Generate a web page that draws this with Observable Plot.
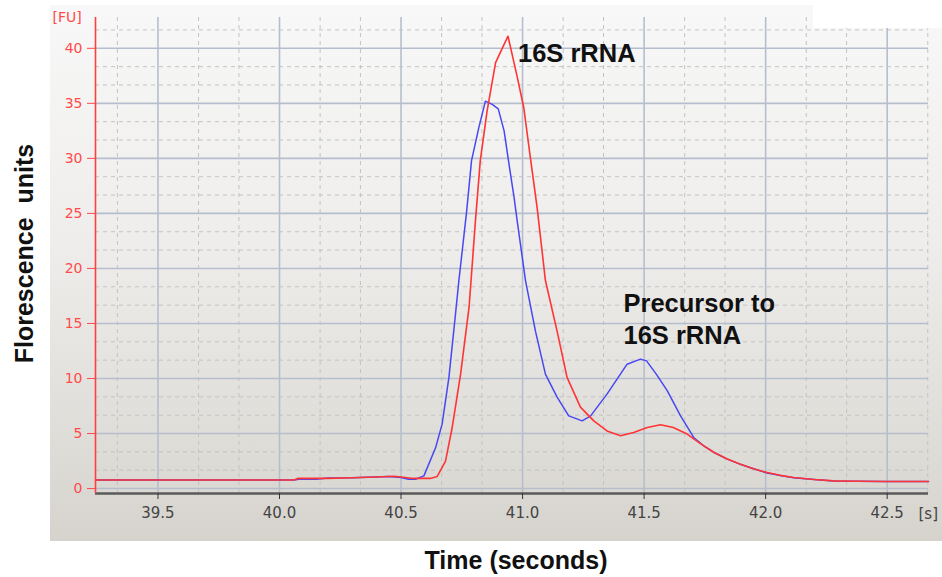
<!DOCTYPE html>
<html>
<head>
<meta charset="utf-8">
<script src="https://cdn.jsdelivr.net/npm/d3@7"></script>
<script src="https://cdn.jsdelivr.net/npm/@observablehq/plot@0.6"></script>
<style>
  html, body { margin: 0; padding: 0; background: #ffffff; }
  #wrap { position: relative; width: 942px; height: 577px; overflow: hidden; }
  #panel { position: absolute; left: 50px; top: 5px; width: 892px; height: 536px;
    background: linear-gradient(to bottom, #f8f8f8 0%, #eeedeb 45%, #dddbd6 85%, #d6d3cd 100%); }
  #notch { position: absolute; left: 813px; top: 0; width: 129px; height: 28px; background: #ffffff; }
  #chart { position: absolute; left: 0; top: 0; }
</style>
</head>
<body>
<div id="wrap"><div id="panel"></div><div id="chart"></div><div id="notch"></div></div>
<script>
// ---- data ----
const redTime  = [39.243, 40.06, 40.075, 40.2, 40.3, 40.4, 40.47, 40.5, 40.55, 40.62, 40.649, 40.683, 40.71, 40.745, 40.78, 40.806, 40.826, 40.854, 40.889, 40.94, 40.978, 41.005, 41.03, 41.06, 41.094, 41.142, 41.183, 41.238, 41.293, 41.35, 41.403, 41.457, 41.513, 41.568, 41.62, 41.677, 41.73, 41.786, 41.84, 41.896, 41.95, 42.006, 42.06, 42.115, 42.2, 42.28, 42.38, 42.486, 42.67];
const redValue = [0.78, 0.78, 0.92, 0.92, 0.98, 1.05, 1.12, 1.05, 0.92, 0.92, 1.1, 2.5, 5.5, 10.4, 16.5, 24.3, 29.8, 34.3, 38.7, 41.1, 37.4, 34.6, 30.4, 25.5, 18.9, 14.3, 10.1, 7.4, 6.15, 5.2, 4.8, 5.1, 5.55, 5.8, 5.55, 4.95, 4.1, 3.3, 2.7, 2.2, 1.8, 1.45, 1.2, 1.0, 0.82, 0.7, 0.66, 0.64, 0.64];

const blueTime  = [39.243, 40.06, 40.08, 40.15, 40.2, 40.3, 40.45, 40.5, 40.53, 40.56, 40.594, 40.642, 40.669, 40.697, 40.724, 40.738, 40.77, 40.79, 40.82, 40.847, 40.875, 40.9, 40.924, 40.944, 40.965, 40.978, 41.012, 41.053, 41.094, 41.142, 41.19, 41.245, 41.28, 41.348, 41.43, 41.485, 41.51, 41.55, 41.595, 41.65, 41.704, 41.75, 41.786, 41.84, 41.896, 41.95, 42.006, 42.06, 42.115, 42.2, 42.28, 42.38, 42.486, 42.58, 42.67];
const blueValue = [0.78, 0.78, 0.85, 0.85, 0.95, 0.98, 1.1, 1.0, 0.85, 0.85, 1.15, 3.7, 5.85, 10.1, 15.85, 18.9, 25.2, 29.8, 32.8, 35.2, 34.9, 34.5, 32.5, 29.5, 26.45, 24.3, 18.9, 14.3, 10.4, 8.3, 6.6, 6.15, 6.6, 8.6, 11.3, 11.76, 11.6, 10.4, 8.9, 6.6, 4.64, 3.8, 3.3, 2.7, 2.2, 1.8, 1.42, 1.18, 0.98, 0.82, 0.68, 0.66, 0.64, 0.65, 0.64];

const xMajorTicks = [39.5, 40.0, 40.5, 41.0, 41.5, 42.0, 42.5];
const yMajorTicks = [0, 5, 10, 15, 20, 25, 30, 35, 40];
const xMinorGrid = [39.333, 39.667, 39.833, 40.167, 40.333, 40.667, 40.833, 41.167, 41.333, 41.667, 41.833, 42.167, 42.333, 42.667];
const yMinorGrid = [1.667, 3.333, 6.667, 8.333, 11.667, 13.333, 16.667, 18.333, 21.667, 23.333, 26.667, 28.333, 31.667, 33.333, 36.667, 38.333, 41.667];

const xDomain = [39.243, 42.67];
const yDomain = [-0.45, 42.8];

const yTitle = "Florescence  units";
const xTitle = "Time (seconds)";
const yUnit = "[FU]";
const xUnit = "[s]";
const peakLabel = "16S rRNA";
const precursorLabel = "Precursor to\n16S rRNA";

// ---- build ----
const red = redTime.map((t, i) => ({t, v: redValue[i]}));
const blue = blueTime.map((t, i) => ({t, v: blueValue[i]}));
const redPeak = red.reduce((a, b) => (b.v > a.v ? b : a));
const blueSecond = blue.filter(d => d.t > 41.3).reduce((a, b) => (b.v > a.v ? b : a));

const titleFont = "'Liberation Sans', Arial, sans-serif";
const tickFont = "'DejaVu Sans', Verdana, sans-serif";

const chart = Plot.plot({
  width: 942,
  height: 577,
  marginLeft: 95,
  marginRight: 14,
  marginTop: 17,
  marginBottom: 84,
  style: {background: "transparent", overflow: "visible", fontFamily: tickFont},
  x: {domain: xDomain},
  y: {domain: yDomain},
  marks: [
    Plot.ruleX(xMinorGrid, {stroke: "#c3c3c3", strokeWidth: 1, strokeDasharray: "4,4"}),
    Plot.ruleY(yMinorGrid, {stroke: "#c3c3c3", strokeWidth: 1, strokeDasharray: "4,4"}),
    Plot.ruleX(xMajorTicks, {stroke: "#b6bece", strokeWidth: 1.6}),
    Plot.ruleY(yMajorTicks, {stroke: "#b6bece", strokeWidth: 1.6}),
    Plot.line(blue, {x: "t", y: "v", stroke: "#4848f2", strokeWidth: 1.5}),
    Plot.line(red, {x: "t", y: "v", stroke: "#ff3434", strokeWidth: 1.6}),
    Plot.ruleY([yDomain[0]], {stroke: "#5a5a5a", strokeWidth: 2.5}),
    Plot.ruleX([xDomain[0]], {stroke: "#ff4040", strokeWidth: 1.6}),
    Plot.axisX(xMajorTicks, {tickSize: 6, tickPadding: 8, tickFormat: d => d.toFixed(1), stroke: "#333", fill: "#444", fontSize: 15, fontFamily: tickFont, label: null}),
    Plot.axisY(yMajorTicks, {tickSize: 8, tickPadding: 5, stroke: "#ff4a4a", fill: "#ff4a4a", fontSize: 14, fontFamily: tickFont, label: null}),
    Plot.text([yUnit], {frameAnchor: "top-left", dx: -43, dy: 0, textAnchor: "start", lineAnchor: "middle", fill: "#ff4a4a", fontSize: 14, fontFamily: tickFont}),
    Plot.text([xUnit], {frameAnchor: "bottom-right", dx: -10, dy: 21, textAnchor: "start", lineAnchor: "middle", fill: "#444", fontSize: 15, fontFamily: tickFont}),
    Plot.text([yTitle], {frameAnchor: "left", rotate: -90, dx: -71, dy: -2, textAnchor: "middle", lineAnchor: "middle", fill: "#111", fontSize: 25, fontWeight: "bold", fontFamily: titleFont}),
    Plot.text([xTitle], {frameAnchor: "bottom", dx: 4, dy: 67, textAnchor: "middle", lineAnchor: "middle", fill: "#111", fontSize: 25, fontWeight: "bold", fontFamily: titleFont}),
    Plot.text([redPeak], {x: "t", y: "v", text: () => peakLabel, dx: 10, dy: 8, textAnchor: "start", lineAnchor: "top", fill: "#111", fontSize: 25.5, fontWeight: "bold", fontFamily: titleFont}),
    Plot.text([blueSecond], {x: "t", y: "v", text: () => precursorLabel, dx: -17, dy: -70, textAnchor: "start", lineAnchor: "top", lineHeight: 1.27, fill: "#111", fontSize: 25.5, fontWeight: "bold", fontFamily: titleFont})
  ]
});
document.getElementById("chart").appendChild(chart);
</script>
</body>
</html>
